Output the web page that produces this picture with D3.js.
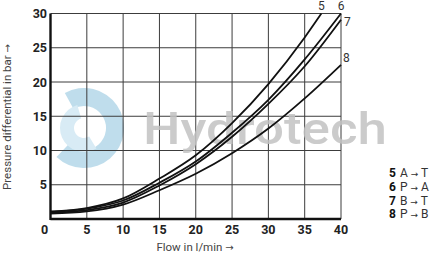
<!DOCTYPE html>
<html>
<head>
<meta charset="utf-8">
<script src="https://cdn.jsdelivr.net/npm/d3@7"></script>
<style>
  body { margin: 0; background: #fff; }
  svg { display: block; font-family: Roboto, "Liberation Sans", sans-serif; }
  .arrow { font-family: "DejaVu Sans", sans-serif; }
</style>
</head>
<body>
<div id="container"></div>
<script>
const width = 432,
  height = 254,
  margin = { top: 13.5, right: 91, bottom: 35, left: 50.5 };

// flow in l/min
const flow = [0, 5, 10, 15, 20, 25, 30, 35, 40];
const flow5 = [0, 5, 10, 15, 20, 25, 30, 35, 37.3];

// pressure differential in bar
const curve5 = [1.1, 1.6, 3.0, 5.9, 9.3, 14.0, 19.7, 26.5, 30];
const curve6 = [1.0, 1.5, 2.7, 5.3, 8.4, 12.6, 17.4, 23.3, 30];
const curve7 = [0.9, 1.3, 2.4, 4.9, 8.0, 12.0, 16.8, 22.3, 29.1];
const curve8 = [0.8, 1.1, 2.1, 4.2, 6.6, 9.6, 13.2, 17.6, 22.5];

const seriesNames = ["5", "6", "7", "8"];
const legendFrom = ["A", "P", "B", "P"];
const legendTo = ["T", "A", "T", "B"];

const xTicks = [0, 5, 10, 15, 20, 25, 30, 35, 40];
const yTicks = [5, 10, 15, 20, 25, 30];

const series = [
  { name: "5", xs: flow5, ys: curve5 },
  { name: "6", xs: flow, ys: curve6 },
  { name: "7", xs: flow, ys: curve7 },
  { name: "8", xs: flow, ys: curve8 }
];

const svg = d3.select("#container")
  .append("svg")
  .attr("width", width)
  .attr("height", height);

const xScale = d3.scaleLinear()
  .domain([0, 40])
  .range([margin.left, width - margin.right]);

const yScale = d3.scaleLinear()
  .domain([0, 30])
  .range([height - margin.bottom, margin.top]);

// watermark logo (swirl) behind the grid
const logo = svg.append("g")
  .attr("transform", "translate(84,128)")
  .attr("opacity", 0.55);

logo.append("path")
  .attr("fill", "#8cc3dd")
  .attr("d", d3.arc()({ innerRadius: 22, outerRadius: 40, startAngle: -0.5, endAngle: 3.9 }));

logo.append("path")
  .attr("fill", "#b9dced")
  .attr("d", d3.arc()({ innerRadius: 10, outerRadius: 24, startAngle: 2.6, endAngle: 6.0 }));

// grid
const grid = svg.append("g").attr("class", "grid");

grid.selectAll(".vline")
  .data(xTicks.filter(d => d > 0))
  .join("line")
  .attr("class", "vline")
  .attr("x1", d => xScale(d))
  .attr("x2", d => xScale(d))
  .attr("y1", yScale(0))
  .attr("y2", yScale(30))
  .attr("stroke", "#3c3c3c")
  .attr("stroke-width", 1);

grid.selectAll(".hline")
  .data(yTicks)
  .join("line")
  .attr("class", "hline")
  .attr("x1", xScale(0))
  .attr("x2", xScale(40))
  .attr("y1", d => yScale(d))
  .attr("y2", d => yScale(d))
  .attr("stroke", "#3c3c3c")
  .attr("stroke-width", 1);

// watermark text
svg.append("text")
  .attr("x", 143)
  .attr("y", 143.5)
  .attr("font-size", 44)
  .attr("font-weight", 500)
  .attr("fill", "#c2c2c2")
  .attr("fill-opacity", 0.85)
  .attr("textLength", 244)
  .attr("lengthAdjust", "spacingAndGlyphs")
  .text("Hydrotech");

// axes lines
svg.append("line")
  .attr("x1", xScale(0)).attr("x2", xScale(0))
  .attr("y1", yScale(0) + 1).attr("y2", yScale(30))
  .attr("stroke", "#111").attr("stroke-width", 2.4);

svg.append("line")
  .attr("x1", xScale(0)).attr("x2", xScale(40))
  .attr("y1", yScale(0)).attr("y2", yScale(0))
  .attr("stroke", "#111").attr("stroke-width", 2.4);

// tick labels
svg.selectAll(".xlabel")
  .data(xTicks)
  .join("text")
  .attr("class", "xlabel")
  .attr("x", d => xScale(d) - (d === 0 ? 6 : 0))
  .attr("y", 233.5)
  .attr("text-anchor", "middle")
  .attr("font-size", 12.5)
  .attr("font-weight", "bold")
  .attr("fill", "#222")
  .text(d => d);

svg.selectAll(".ylabel")
  .data(yTicks)
  .join("text")
  .attr("class", "ylabel")
  .attr("x", 47)
  .attr("y", d => yScale(d) + 4.5)
  .attr("text-anchor", "end")
  .attr("font-size", 12.5)
  .attr("font-weight", "bold")
  .attr("fill", "#222")
  .text(d => d);

// axis titles
const xTitle = svg.append("text")
  .attr("x", 195)
  .attr("y", 251)
  .attr("text-anchor", "middle")
  .attr("font-size", 11.5)
  .attr("fill", "#444");
xTitle.append("tspan").text("Flow in l/min ");
xTitle.append("tspan").attr("class", "arrow").attr("font-size", 10).text("\u2192");

const yTitle = svg.append("text")
  .attr("transform", `translate(${11}, ${117}) rotate(-90)`)
  .attr("text-anchor", "middle")
  .attr("font-size", 11.5)
  .attr("fill", "#444");
yTitle.append("tspan").text("Pressure differential in bar ");
yTitle.append("tspan").attr("class", "arrow").attr("font-size", 10).text("\u2192");

// curves
const lineGen = d3.line()
  .x(d => xScale(d[0]))
  .y(d => yScale(d[1]))
  .curve(d3.curveMonotoneX);

svg.selectAll(".curve")
  .data(series)
  .join("path")
  .attr("class", "curve")
  .attr("fill", "none")
  .attr("stroke", "#111")
  .attr("stroke-width", 1.8)
  .attr("d", d => lineGen(d.xs.map((x, i) => [x, d.ys[i]])));

// curve end labels
const endLabels = [
  { dx: 0, dy: -4, anchor: "middle" },
  { dx: 0, dy: -4, anchor: "middle" },
  { dx: 3, dy: 6, anchor: "start" },
  { dx: 2, dy: -3, anchor: "start" }
];

svg.selectAll(".endlabel")
  .data(series)
  .join("text")
  .attr("class", "endlabel")
  .attr("x", (d, i) => xScale(d.xs[d.xs.length - 1]) + endLabels[i].dx)
  .attr("y", (d, i) => yScale(d.ys[d.ys.length - 1]) + endLabels[i].dy)
  .attr("text-anchor", (d, i) => endLabels[i].anchor)
  .attr("font-size", 12)
  .attr("fill", "#333")
  .text(d => d.name);

// legend
const legend = svg.append("g")
  .attr("transform", "translate(389,177)");

const rows = legend.selectAll("text")
  .data(seriesNames)
  .join("text")
  .attr("y", (d, i) => i * 13.8)
  .attr("font-size", 12)
  .attr("fill", "#333");

rows.append("tspan")
  .attr("font-weight", "bold")
  .attr("fill", "#111")
  .text(d => d);

rows.append("tspan")
  .attr("dx", 4)
  .text((d, i) => legendFrom[i] + " ");

rows.append("tspan")
  .attr("class", "arrow")
  .attr("font-size", 9)
  .text("\u2192");

rows.append("tspan")
  .text((d, i) => " " + legendTo[i]);
</script>
</body>
</html>
